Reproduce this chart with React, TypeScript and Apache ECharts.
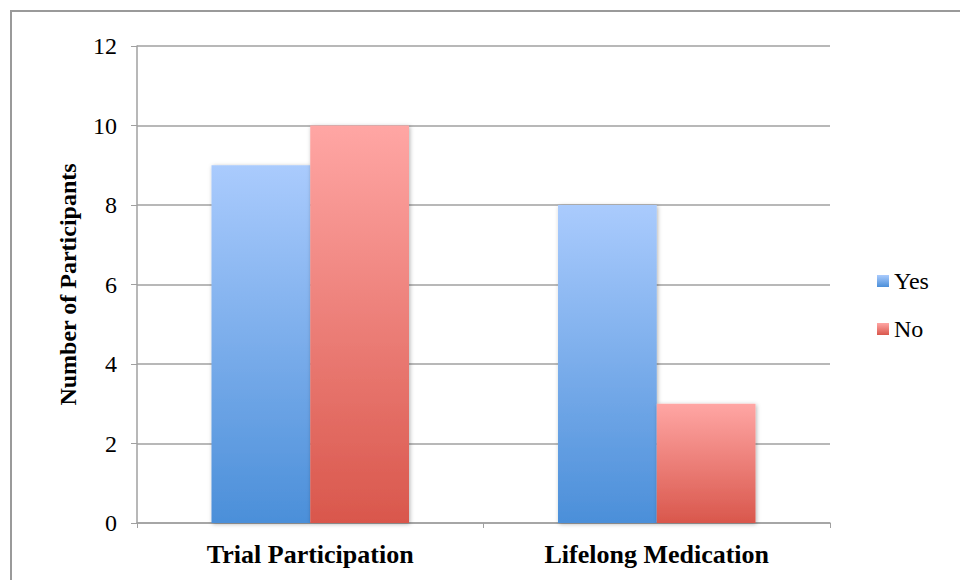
import React, { useEffect, useRef } from "react";
import * as echarts from "echarts";

const categories = ["Trial Participation", "Lifelong Medication"];
const yesValues = [9, 8];
const noValues = [10, 3];
const seriesNames = ["Yes", "No"];

export default function App() {
  const ref = useRef<HTMLDivElement>(null);
  useEffect(() => {
    document.body.style.margin = "0";
    if (!ref.current) return;
    const chart = echarts.init(ref.current, null, { renderer: "svg" });
    const font = "Liberation Serif";
    const blue = new echarts.graphic.LinearGradient(0, 0, 0, 1, [
      { offset: 0, color: "#aacbfd" },
      { offset: 1, color: "#4b8fd9" },
    ]);
    const red = new echarts.graphic.LinearGradient(0, 0, 0, 1, [
      { offset: 0, color: "#ffa6a4" },
      { offset: 1, color: "#d9574c" },
    ]);
    const labelText = { fontFamily: font, fontSize: 24, color: "#000" };
    chart.setOption({
      animation: false,
      backgroundColor: "#ffffff",
      textStyle: { fontFamily: font, color: "#000" },
      graphic: [
        {
          type: "rect",
          shape: { x: 11, y: 11, width: 1000, height: 1000 },
          style: { fill: "none", stroke: "#9a9a9a", lineWidth: 2 },
          silent: true,
        },
      ],
      grid: { left: 137, right: 130, top: 46, bottom: 57 },
      legend: {
        orient: "vertical",
        left: 872,
        top: 264,
        icon: "rect",
        itemWidth: 12,
        itemHeight: 12,
        itemGap: 24,
        textStyle: { ...labelText },
        data: seriesNames,
      },
      xAxis: {
        type: "category",
        data: categories,
        axisLine: { lineStyle: { color: "#a0a0a0", width: 1.5 } },
        axisTick: { show: true, length: 5, interval: 0, lineStyle: { color: "#a0a0a0" } },
        axisLabel: {
          margin: 18,
          fontFamily: font,
          fontSize: 26,
          fontWeight: "bold",
          color: "#000",
        },
      },
      yAxis: {
        type: "value",
        min: 0,
        max: 12,
        interval: 2,
        name: "Number of Participants",
        nameLocation: "middle",
        nameGap: 57,
        nameTextStyle: { fontFamily: font, fontSize: 24, fontWeight: "bold", color: "#000" },
        axisLine: { show: true, lineStyle: { color: "#a0a0a0", width: 1.5 } },
        axisTick: { show: true, length: 6, lineStyle: { color: "#a0a0a0" } },
        axisLabel: { margin: 20, ...labelText },
        splitLine: { lineStyle: { color: "#a0a0a0", width: 1.5 } },
      },
      series: [
        {
          name: seriesNames[0],
          type: "bar",
          data: yesValues,
          barGap: "0%",
          barCategoryGap: "43%",
          itemStyle: {
            color: blue,
            shadowColor: "rgba(0,0,0,0.3)",
            shadowBlur: 4,
            shadowOffsetX: 1,
            shadowOffsetY: 1,
          },
        },
        {
          name: seriesNames[1],
          type: "bar",
          data: noValues,
          barGap: "0%",
          barCategoryGap: "43%",
          itemStyle: {
            color: red,
            shadowColor: "rgba(0,0,0,0.3)",
            shadowBlur: 4,
            shadowOffsetX: 1,
            shadowOffsetY: 1,
          },
        },
      ],
    });
    return () => chart.dispose();
  }, []);
  return <div ref={ref} style={{ width: 960, height: 580 }} />;
}
